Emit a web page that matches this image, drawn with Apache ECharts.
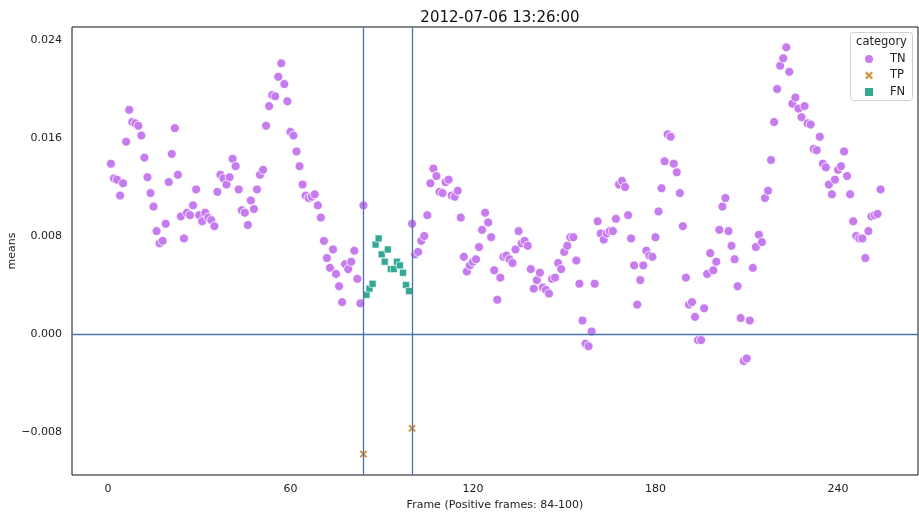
<!DOCTYPE html>
<html>
<head>
<meta charset="utf-8">
<script src="https://cdn.jsdelivr.net/npm/echarts@6/dist/echarts.min.js"></script>
<style>
  html, body { margin: 0; padding: 0; background: #fff; }
  #chart { width: 919px; height: 514px; }
</style>
</head>
<body>
<div id="chart"></div>
<script>
// TN means, frames 1..84
const tnStartA = 1
const tnValuesA = [
  0.0139, 0.0127, 0.0126, 0.0113, 0.0123, 0.0157, 0.0183, 0.0173, 0.0172, 0.0170,
  0.0162, 0.0144, 0.0128, 0.0115, 0.0104, 0.0084, 0.0074, 0.0076, 0.0090, 0.0124,
  0.0147, 0.0168, 0.0130, 0.0096, 0.0078, 0.0099, 0.0097, 0.0105, 0.0118, 0.0097,
  0.0092, 0.0099, 0.0095, 0.0093, 0.0088, 0.0116, 0.0130, 0.0127, 0.0122, 0.0128,
  0.0143, 0.0137, 0.0118, 0.0101, 0.0099, 0.0089, 0.0109, 0.0102, 0.0118, 0.0130,
  0.0134, 0.0170, 0.0186, 0.0195, 0.0194, 0.0210, 0.0221, 0.0204, 0.0190, 0.0165,
  0.0162, 0.0149, 0.0137, 0.0122, 0.0113, 0.0111, 0.0112, 0.0114, 0.0105, 0.0095,
  0.0076, 0.0062, 0.0054, 0.0069, 0.0049, 0.0039, 0.0026, 0.0057, 0.0053, 0.0059,
  0.0068, 0.0045, 0.0025, 0.0105
]
// TN means, frames 100..254
const tnStartB = 100
const tnValuesB = [
  0.0090, 0.0065, 0.0067, 0.0076, 0.0080, 0.0097, 0.0123, 0.0135, 0.0129, 0.0116,
  0.0115, 0.0124, 0.0126, 0.0113, 0.0112, 0.0117, 0.0095, 0.0063, 0.0051, 0.0056,
  0.0059, 0.0061, 0.0071, 0.0085, 0.0099, 0.0091, 0.0079, 0.0052, 0.0028, 0.0046,
  0.0063, 0.0064, 0.0061, 0.0058, 0.0069, 0.0084, 0.0074, 0.0076, 0.0072, 0.0053,
  0.0037, 0.0044, 0.0050, 0.0038, 0.0036, 0.0033, 0.0045, 0.0046, 0.0058, 0.0053,
  0.0067, 0.0072, 0.0079, 0.0079, 0.0060, 0.0041, 0.0011, -0.0008, -0.0010, 0.0002,
  0.0041, 0.0092, 0.0082, 0.0077, 0.0082, 0.0084, 0.0084, 0.0094, 0.0122, 0.0125,
  0.0120, 0.0097, 0.0078, 0.0056, 0.0024, 0.0044, 0.0056, 0.0068, 0.0064, 0.0063,
  0.0079, 0.0100, 0.0119, 0.0141, 0.0163, 0.0161, 0.0139, 0.0132, 0.0115, 0.0088,
  0.0046, 0.0024, 0.0026, 0.0014, -0.0005, -0.0005, 0.0021, 0.0049, 0.0066, 0.0052,
  0.0059, 0.0085, 0.0104, 0.0111, 0.0084, 0.0072, 0.0061, 0.0039, 0.0013, -0.0022,
  -0.0020, 0.0011, 0.0054, 0.0071, 0.0081, 0.0075, 0.0111, 0.0117, 0.0142, 0.0173,
  0.0200, 0.0219, 0.0225, 0.0234, 0.0214, 0.0188, 0.0193, 0.0184, 0.0177, 0.0186,
  0.0172, 0.0171, 0.0151, 0.0150, 0.0161, 0.0139, 0.0136, 0.0122, 0.0114, 0.0126,
  0.0134, 0.0137, 0.0149, 0.0129, 0.0114, 0.0092, 0.0080, 0.0078, 0.0078, 0.0062,
  0.0084, 0.0096, 0.0097, 0.0098, 0.0118
]
// FN means, frames 85..99
const fnStart = 85
const fnValues = [
  0.0032, 0.0037, 0.0041, 0.0073, 0.0078, 0.0065, 0.0059, 0.0069, 0.0053, 0.0053,
  0.0059, 0.0056, 0.0050, 0.0040, 0.0035
]
// TP [frame, mean]
const tpPoints = [[84, -0.0098], [100, -0.0077]]

const positiveFrames = [84, 100]
const xTicks = [0, 60, 120, 180, 240]
const yTicks = [-0.008, 0, 0.008, 0.016, 0.024]

const font = 'DejaVu Sans'
const tnColor = '#c67cee'
const tpColor = '#d5913c'
const fnColor = '#33a993'
const xSymbol = 'path://M0,2 L2,0 L5,3 L8,0 L10,2 L7,5 L10,8 L8,10 L5,7 L2,10 L0,8 L3,5 Z'

function toPoints (start, values) {
  return values.map(function (v, i) {
    return [start + i, v]
  })
}

let tnData = toPoints(tnStartA, tnValuesA).concat(toPoints(tnStartB, tnValuesB))
let fnData = toPoints(fnStart, fnValues)

let option = {
  animation: false,
  title: {
    text: '2012-07-06 13:26:00',
    left: 495,
    top: 6,
    textAlign: 'center',
    textStyle: { fontFamily: font, fontSize: 15, fontWeight: 'normal', color: '#111' }
  },
  grid: {
    left: 72, right: 1, top: 27, bottom: 39,
    containLabel: false,
    outerBoundsMode: 'none',
    show: true, borderColor: '#111', borderWidth: 1, backgroundColor: '#fff'
  },
  graphic: [
    // y axis title
    {
      type: 'text', z: 10,
      x: 12, y: 251, rotation: Math.PI / 2,
      style: {
        text: 'means', fontFamily: font, fontSize: 11, fill: '#222',
        align: 'center', verticalAlign: 'middle'
      }
    },
    // legend box and title
    {
      type: 'rect', z: 50,
      shape: { x: 850.5, y: 32.5, width: 62, height: 68, r: 3 },
      style: { fill: 'rgba(255,255,255,0.8)', stroke: '#d0d0d0', lineWidth: 1 }
    },
    {
      type: 'text', z: 51,
      x: 881.5, y: 42,
      style: {
        text: 'category', fontFamily: font, fontSize: 11.5, fill: '#222',
        align: 'center', verticalAlign: 'middle'
      }
    }
  ],
  legend: {
    z: 60,
    orient: 'vertical',
    left: 865,
    top: 53,
    itemGap: 4.5,
    itemWidth: 8,
    itemHeight: 8,
    padding: 0,
    textStyle: { fontFamily: font, fontSize: 11.5, color: '#222', padding: [0, 0, 0, 12] },
    data: [
      { name: 'TN', icon: 'circle', itemStyle: { color: tnColor, borderWidth: 0 } },
      { name: 'TP', icon: xSymbol, itemStyle: { color: tpColor, borderWidth: 0 } },
      { name: 'FN', icon: 'rect', itemStyle: { color: fnColor, borderWidth: 0 } }
    ]
  },
  xAxis: {
    type: 'value',
    min: -11.8,
    max: 266.3,
    name: 'Frame (Positive frames: 84-100)',
    nameLocation: 'middle',
    nameGap: 25,
    nameTextStyle: { fontFamily: font, fontSize: 11, color: '#222' },
    axisLine: { show: false },
    axisTick: { show: false },
    splitLine: { show: false },
    axisLabel: {
      customValues: xTicks,
      margin: 9,
      fontFamily: font, fontSize: 11, color: '#222'
    }
  },
  yAxis: {
    type: 'value',
    min: -0.01151,
    max: 0.02506,
    axisLine: { show: false },
    axisTick: { show: false },
    splitLine: { show: false },
    axisLabel: {
      customValues: yTicks,
      margin: 10,
      fontFamily: font, fontSize: 11, color: '#222',
      formatter: function (v) {
        return v < 0 ? '\u2212' + Math.abs(v).toFixed(3) : v.toFixed(3)
      }
    }
  },
  series: [
    {
      name: 'TN',
      type: 'scatter',
      z: 2,
      symbol: 'circle',
      symbolSize: 9,
      itemStyle: { color: tnColor, borderColor: '#fff', borderWidth: 0.8, opacity: 1 },
      data: tnData,
      markLine: {
        silent: true,
        symbol: 'none',
        label: { show: false },
        lineStyle: { color: '#4c72b0', type: 'solid', width: 1.3 },
        data: positiveFrames.map(function (f) { return { xAxis: f } }).concat([{ yAxis: 0 }])
      }
    },
    {
      name: 'TP',
      type: 'scatter',
      z: 3,
      symbol: xSymbol,
      symbolSize: 8,
      itemStyle: { color: tpColor, borderColor: '#fff', borderWidth: 0.5, opacity: 1 },
      data: tpPoints
    },
    {
      name: 'FN',
      type: 'scatter',
      z: 3,
      symbol: 'rect',
      symbolSize: 7,
      itemStyle: { color: fnColor, borderColor: '#fff', borderWidth: 0.6, opacity: 1 },
      data: fnData
    }
  ]
}

let chart = echarts.init(document.getElementById('chart'))
chart.setOption(option)
</script>
</body>
</html>
